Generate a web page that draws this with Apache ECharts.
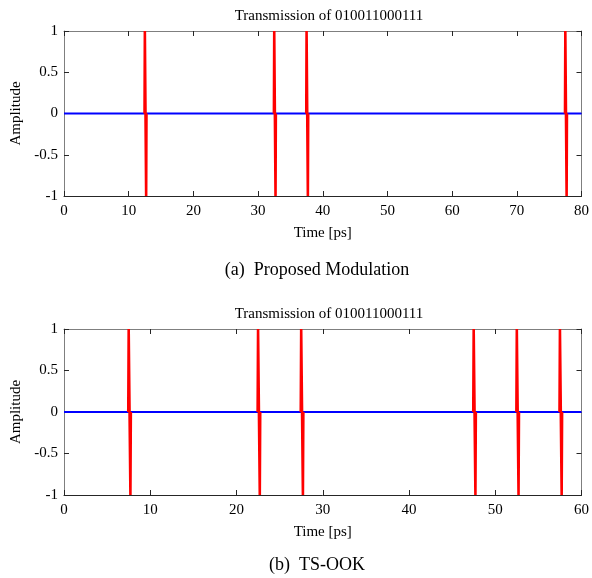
<!DOCTYPE html>
<html>
<head>
<meta charset="utf-8">
<script src="https://cdn.jsdelivr.net/npm/echarts@6/dist/echarts.min.js"></script>
<style>
	html, body { margin: 0; padding: 0; background: #fff; }
	#main { width: 592px; height: 578px; }
</style>
</head>
<body>
<div id="main"></div>
<script>
// pulse start times [ps]
var pulsesA = [12.5, 32.5, 37.5, 77.5];
var pulsesB = [7.5, 22.5, 27.5, 47.5, 52.5, 57.5];
// shape of one pulse (time offset, amplitude)
var shapeT = [-0.05, 0, 0.1, 0.2, 0.25];
var shapeA = [0, 1, 0, -1, 0];
var xMaxA = 80, xMaxB = 60;
var yTicks = [-1, -0.5, 0, 0.5, 1];

var font = 'Liberation Serif';
var gray = '#7f7f7f';
var dark = '#262626';

function pulseSeries(starts, idx) {
	var list = [];
	for (var i = 0; i < starts.length; i++) {
		var d = [];
		for (var j = 0; j < shapeT.length; j++) {
			d.push([starts[i] + shapeT[j], shapeA[j]]);
		}
		list.push({
			type: 'line', xAxisIndex: idx * 2, yAxisIndex: idx * 2,
			data: d, showSymbol: false, z: 3,
			lineStyle: {color: '#ff0000', width: 2.6}
		});
	}
	return list;
}

function xAx(grid, max, pos) {
	var bottom = pos == 'bottom';
	return {
		type: 'value', gridIndex: grid, position: pos, min: 0, max: max, interval: 10,
		name: bottom ? 'Time [ps]' : '', nameLocation: 'middle', nameGap: 30,
		nameTextStyle: {fontFamily: font, fontSize: 15, color: '#000'},
		axisLine: {show: true, onZero: false, lineStyle: {color: bottom ? dark : gray, width: 1}},
		axisTick: {show: true, inside: true, length: 5, lineStyle: {color: dark}},
		axisLabel: {show: bottom, fontFamily: font, fontSize: 15, color: '#000', margin: 8},
		splitLine: {show: false}
	};
}

function yAx(grid, pos) {
	var left = pos == 'left';
	return {
		type: 'value', gridIndex: grid, position: pos, min: -1, max: 1, interval: 0.5,
		name: left ? 'Amplitude' : '', nameLocation: 'middle', nameGap: 37,
		nameTextStyle: {fontFamily: font, fontSize: 15, color: '#000'},
		axisLine: {show: true, onZero: false, lineStyle: {color: gray, width: 1}},
		axisTick: {show: true, inside: true, length: 5, lineStyle: {color: dark}},
		axisLabel: {show: left, fontFamily: font, fontSize: 15, color: '#000', margin: 6},
		splitLine: {show: false}
	};
}

var myChart = echarts.init(document.getElementById('main'));

var series = [
	{
		type: 'line', xAxisIndex: 0, yAxisIndex: 0, data: [[0, 0], [xMaxA, 0]],
		showSymbol: false, z: 2, lineStyle: {color: '#0000ff', width: 2}
	},
	{
		type: 'line', xAxisIndex: 2, yAxisIndex: 2, data: [[0, 0], [xMaxB, 0]],
		showSymbol: false, z: 2, lineStyle: {color: '#0000ff', width: 2}
	}
].concat(pulseSeries(pulsesA, 0), pulseSeries(pulsesB, 1));

var option = {
	animation: false,
	backgroundColor: '#fff',
	title: [
		{text: 'Transmission of 010011000111', left: 324, top: 4, textAlign: 'center',
			textStyle: {fontFamily: font, fontSize: 15, fontWeight: 'normal', color: '#000'}},
		{text: 'Transmission of 010011000111', left: 324, top: 302, textAlign: 'center',
			textStyle: {fontFamily: font, fontSize: 15, fontWeight: 'normal', color: '#000'}},
		{text: '(a)  Proposed Modulation', left: 312, top: 256, textAlign: 'center',
			textStyle: {fontFamily: font, fontSize: 18, fontWeight: 'normal', color: '#000'}},
		{text: '(b)  TS-OOK', left: 312, top: 551, textAlign: 'center',
			textStyle: {fontFamily: font, fontSize: 18, fontWeight: 'normal', color: '#000'}}
	],
	grid: [
		{left: 64, top: 31, width: 520, height: 165},
		{left: 64, top: 329, width: 520, height: 166}
	],
	xAxis: [xAx(0, xMaxA, 'bottom'), xAx(0, xMaxA, 'top'), xAx(1, xMaxB, 'bottom'), xAx(1, xMaxB, 'top')],
	yAxis: [yAx(0, 'left'), yAx(0, 'right'), yAx(1, 'left'), yAx(1, 'right')],
	series: series
};

myChart.setOption(option);
</script>
</body>
</html>
